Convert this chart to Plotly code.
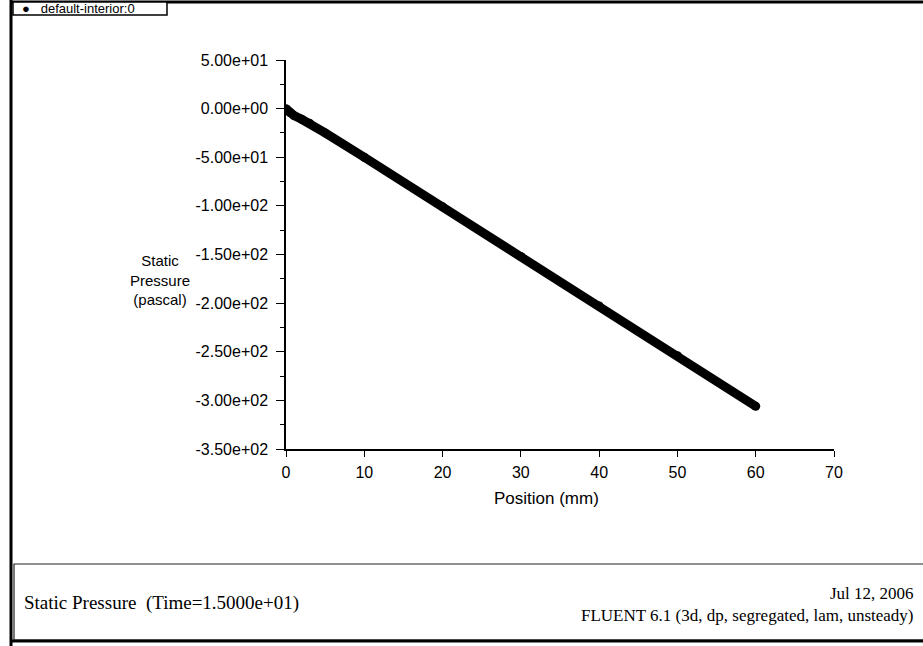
import plotly.graph_objects as go

# Data
position_mm = [0, 0.5, 1, 2, 3, 5, 10, 20, 30, 40, 50, 60]
static_pressure = [0, -4, -7, -11, -15, -25, -50, -101, -152, -203, -254, -306]

x_ticks = [0, 10, 20, 30, 40, 50, 60, 70]
y_ticks = [50, 0, -50, -100, -150, -200, -250, -300, -350]
y_tick_labels = ["5.00e+01", "0.00e+00", "-5.00e+01", "-1.00e+02", "-1.50e+02",
                 "-2.00e+02", "-2.50e+02", "-3.00e+02", "-3.50e+02"]

W, H = 923, 646
L, R, T, B = 286, 834, 60, 449  # plot area in pixels

def px(x):
    return (x - L) / (R - L)

def py(y):
    return (B - y) / (B - T)

tick_font = dict(family="Liberation Sans, Arial", size=16, color="black")

fig = go.Figure()
fig.add_trace(go.Scatter(
    x=position_mm, y=static_pressure, mode="lines+markers",
    line=dict(color="black", width=9),
    marker=dict(color="black", size=9),
    showlegend=False, hoverinfo="skip",
))

fig.update_layout(
    width=W, height=H,
    margin=dict(l=L, r=W - R, t=T, b=H - B, pad=0),
    paper_bgcolor="white", plot_bgcolor="white",
    xaxis=dict(range=[0, 70], tickvals=x_ticks, ticks="outside", ticklen=6,
               tickcolor="black", showline=True, linecolor="black", linewidth=1.5,
               showgrid=False, zeroline=False, tickfont=tick_font, ticklabelstandoff=2),
    yaxis=dict(range=[-350, 50], tickvals=y_ticks, ticktext=y_tick_labels,
               ticks="outside", ticklen=8, tickcolor="black", showline=True,
               linecolor="black", linewidth=1.5, showgrid=False, zeroline=False,
               tickfont=tick_font, ticklabelstandoff=5,
               minor=dict(dtick=25, ticks="outside", ticklen=4, tickcolor="black")),
)

shapes = []
# outer frame lines
shapes.append(dict(type="line", xref="paper", yref="paper", x0=px(11), x1=px(11), y0=py(0), y1=py(646),
                   line=dict(color="black", width=3)))
shapes.append(dict(type="line", xref="paper", yref="paper", x0=px(10), x1=px(923), y0=py(2), y1=py(2),
                   line=dict(color="black", width=3)))
# legend box at top-left
shapes.append(dict(type="rect", xref="paper", yref="paper", x0=px(13), x1=px(167), y0=py(2), y1=py(15),
                   line=dict(color="black", width=1.5), fillcolor="white"))
# footer box
shapes.append(dict(type="rect", xref="paper", yref="paper", x0=px(14), x1=px(925), y0=py(564), y1=py(640),
                   line=dict(color="#222222", width=1.2)))
shapes.append(dict(type="line", xref="paper", yref="paper", x0=px(10), x1=px(923), y0=py(641), y1=py(641),
                   line=dict(color="black", width=3)))
fig.update_layout(shapes=shapes)

ann = []
ann.append(dict(text="●   default-interior:0", xref="paper", yref="paper", x=px(20), y=py(8.5),
                xanchor="left", yanchor="middle", showarrow=False,
                font=dict(family="Liberation Sans, Arial", size=13, color="black")))
ann.append(dict(text="Static<br>Pressure<br>(pascal)", xref="paper", yref="paper", x=px(160), y=py(280),
                xanchor="center", yanchor="middle", align="center", showarrow=False,
                font=dict(family="Liberation Sans, Arial", size=15, color="black")))
ann.append(dict(text="Position (mm)", xref="paper", yref="paper", x=px(546), y=py(498),
                xanchor="center", yanchor="middle", showarrow=False,
                font=dict(family="Liberation Sans, Arial", size=17, color="black")))
ann.append(dict(text="Static Pressure  (Time=1.5000e+01)", xref="paper", yref="paper", x=px(22), y=py(603),
                xanchor="left", yanchor="middle", showarrow=False,
                font=dict(family="Liberation Serif, Times New Roman", size=19, color="black")))
ann.append(dict(text="Jul 12, 2006<br>FLUENT 6.1 (3d, dp, segregated, lam, unsteady)", xref="paper", yref="paper",
                x=px(916), y=py(604), xanchor="right", yanchor="middle", align="right", showarrow=False,
                font=dict(family="Liberation Serif, Times New Roman", size=17, color="black")))
fig.update_layout(annotations=ann)

fig.write_html("out.html")
